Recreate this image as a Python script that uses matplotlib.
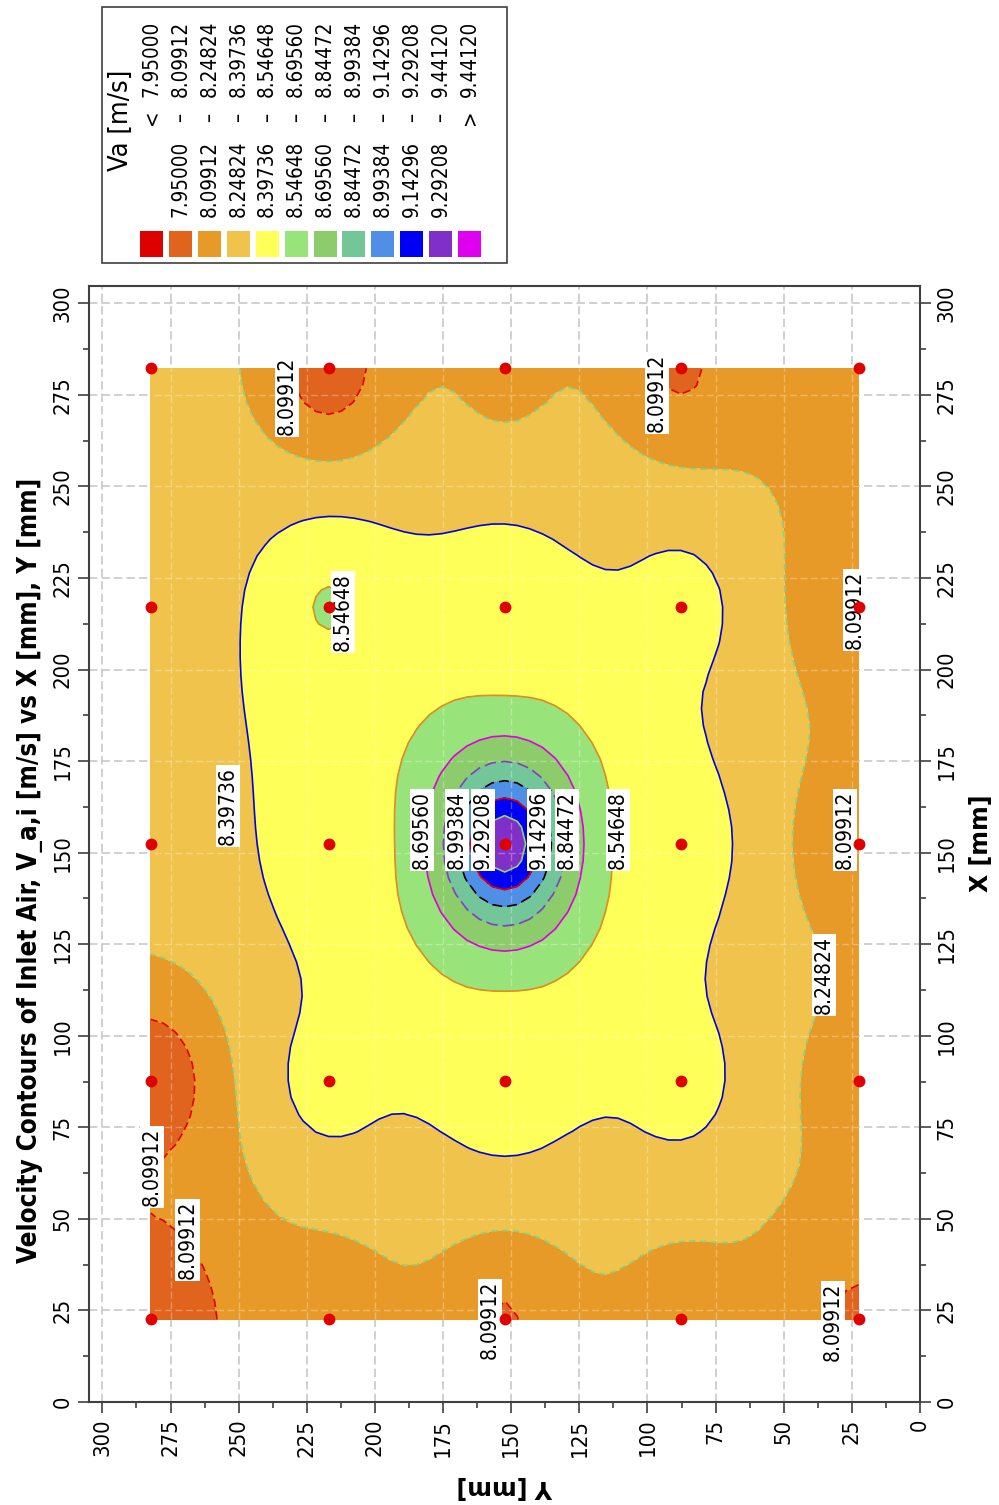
import numpy as np
import matplotlib
matplotlib.use("Agg")
import matplotlib.pyplot as plt
from matplotlib import font_manager
from matplotlib.colors import ListedColormap, BoundaryNorm
from matplotlib.patches import Rectangle

# ---------------- data ----------------
x_mm = [22.56, 87.78, 152.4, 217.02, 282.24]   # X [mm] traverse positions
y_mm = [22.56, 87.78, 152.4, 217.02, 282.24]   # Y [mm] traverse positions
# Va [m/s]; one list per X position, values follow y_mm
va_x1 = [8.08, 8.18, 8.09, 8.17, 7.96]
va_x2 = [8.18, 8.45, 8.47, 8.45, 7.99]
va_x3 = [8.10, 8.45, 9.42, 8.45, 8.31]
va_x4 = [8.10, 8.45, 8.46, 8.56, 8.32]
va_x5 = [8.15, 8.08, 8.21, 8.02, 8.33]

levels = [7.95000, 8.09912, 8.24824, 8.39736, 8.54648, 8.69560,
          8.84472, 8.99384, 9.14296, 9.29208, 9.44120]
axis_ticks = [0, 25, 50, 75, 100, 125, 150, 175, 200, 225, 250, 275, 300]
minor_ticks = [12.5, 37.5, 62.5, 87.5, 112.5, 137.5, 162.5, 187.5, 212.5,
               237.5, 262.5, 287.5]

# contour labels: value, X, Y
lab_value = [8.09912, 8.09912, 8.54648, 8.09912, 8.39736, 8.69560, 8.99384,
             9.29208, 9.14296, 8.84472, 8.54648, 8.09912, 8.24824, 8.09912,
             8.09912, 8.09912, 8.09912]
lab_x = [274.8, 275.5, 215.7, 216.3, 162.7, 156.2, 156.2, 156.2, 156.2, 156.2,
         156.2, 156.2, 116.7, 64.2, 44.2, 22.4, 21.8]
lab_y = [232.4, 96.5, 211.7, 23.8, 253.9, 182.8, 169.8, 160.4, 139.8, 129.6,
         110.9, 27.5, 35.2, 281.9, 268.8, 157.8, 31.9]

legend_low = ["", "7.95000", "8.09912", "8.24824", "8.39736", "8.54648",
              "8.69560", "8.84472", "8.99384", "9.14296", "9.29208", ""]
legend_sym = ["<"] + ["\u2013"] * 10 + [">"]
legend_high = ["7.95000", "8.09912", "8.24824", "8.39736", "8.54648", "8.69560",
               "8.84472", "8.99384", "9.14296", "9.29208", "9.44120", "9.44120"]

fill_colors = ["#dd0000", "#e0641e", "#e89a28", "#f0c44c", "#ffff5a", "#98e47a",
               "#8ccc6a", "#72c698", "#4f8fe6", "#0000f5", "#8030c8", "#e000f0"]
line_colors = ["#000000", "#e00000", "#8fd080", "#0000e0", "#e08c20", "#e000e0",
               "#8040c0", "#000000", "#e00000", "#8fd070", "#0000e0"]
line_styles = ["solid", (0, (5, 2.5)), (0, (4, 2.5)), "solid", "solid", "solid",
               (0, (7, 3)), (0, (6, 3)), "solid", "solid", "solid"]

# ---------------- fonts ----------------
COND = any("DejaVuSansCondensed" in f.fname.replace("-", "") or
           ("DejaVu" in f.name and f.stretch == "condensed")
           for f in font_manager.fontManager.ttflist)
STRETCH = "condensed" if COND else "normal"
plt.rcParams["font.family"] = ["DejaVu Sans"]
if COND:
    fs_tick, fs_lab, fs_leg, fs_legt, fs_title = 15.8, 15.1, 14.8, 19.5, 18.6
else:
    fs_tick, fs_lab, fs_leg, fs_legt, fs_title = 14.2, 13.6, 13.3, 17.8, 16.8

W, H = 999, 1505
def fx(px):
    return px / W
def fy(py):
    return 1 - py / H

fig = plt.figure(figsize=(W / 100, H / 100), dpi=100)
ax = fig.add_axes([fx(89.3), fy(1402), (920 - 89.3) / W, (1402 - 285.7) / H])

# ---------------- field ----------------
va = np.array([va_x1, va_x2, va_x3, va_x4, va_x5])
PX, PY = np.meshgrid(x_mm, y_mm, indexing="ij")
sub = 14
gx = np.unique(np.concatenate([np.linspace(a, b, sub + 1) for a, b in zip(x_mm[:-1], x_mm[1:])]))
gy = np.unique(np.concatenate([np.linspace(a, b, sub + 1) for a, b in zip(y_mm[:-1], y_mm[1:])]))
GX, GY = np.meshgrid(gx, gy, indexing="ij")
d2 = (GX[..., None] - PX.ravel()) ** 2 + (GY[..., None] - PY.ravel()) ** 2
w = 1.0 / np.maximum(d2, 1e-9)
Z = (w * va.ravel()).sum(-1) / w.sum(-1)

cmap = ListedColormap(fill_colors[1:-1])
cmap.set_under(fill_colors[0])
cmap.set_over(fill_colors[-1])
norm = BoundaryNorm(levels, cmap.N)
ax.contourf(GY, GX, Z, levels=levels, cmap=cmap, norm=norm, extend="both", zorder=1)

# faint grid traces visible through the filled area
for t in axis_ticks:
    if y_mm[0] < t < y_mm[-1]:
        ax.plot([t, t], [x_mm[0], x_mm[-1]], color="white", alpha=0.3, lw=1.0,
                ls=(0, (5, 2.5)), zorder=1.5)
    if x_mm[0] < t < x_mm[-1]:
        ax.plot([y_mm[0], y_mm[-1]], [t, t], color="white", alpha=0.3, lw=1.0,
                ls=(0, (5, 2.5)), zorder=1.5)

ax.contour(GY, GX, Z, levels=levels, colors=line_colors, linewidths=1.2,
           linestyles=line_styles, zorder=2)

for v, xx, yy in zip(lab_value, lab_x, lab_y):
    ax.text(yy, xx, f"{v:.5f}", rotation=90, rotation_mode="anchor", ha="center",
            va="center", fontsize=fs_lab, fontstretch=STRETCH, zorder=4,
            bbox=dict(facecolor="white", edgecolor="none", pad=1.5))

ax.plot(PY.ravel(), PX.ravel(), "o", color="#e00000", ms=8.5, mec="none",
        zorder=5, clip_on=False)

# ---------------- axes ----------------
ax.set_xlim(304.8, 0)
ax.set_ylim(0, 304.8)
ax.set_xticks(axis_ticks)
ax.set_yticks(axis_ticks)
ax.set_xticks(minor_ticks, minor=True)
ax.set_yticks(minor_ticks, minor=True)
ax.set_axisbelow(True)
ax.grid(True, which="major", color="#c8c8c8", linestyle=(0, (5, 2.5)), linewidth=1.2)
ax.tick_params(axis="x", which="both", bottom=True, top=False, labelbottom=True,
               direction="out")
ax.tick_params(axis="y", which="both", left=True, right=True, labelleft=True,
               labelright=True, direction="out")
ax.tick_params(which="major", length=8, width=1.2, color="#404040", pad=4)
ax.tick_params(which="minor", length=4.5, width=1.2, color="#404040")
for t in ax.xaxis.get_major_ticks():
    t.label1.set_rotation(90)
    t.label1.set_fontsize(fs_tick)
    t.label1.set_fontstretch(STRETCH)
for t in ax.yaxis.get_major_ticks():
    for lb in (t.label1, t.label2):
        lb.set_rotation(90)
        lb.set_va("center")
        lb.set_fontsize(fs_tick)
        lb.set_fontstretch(STRETCH)
for s in ax.spines.values():
    s.set_color("#404040")
    s.set_linewidth(1.5)

# ---------------- texts ----------------
fig.text(fx(30), fy(870), "Velocity Contours of Inlet Air, V_a,i [m/s] vs X [mm], Y [mm]",
         rotation=90, ha="center", va="center", fontsize=fs_title,
         fontweight="bold", fontstretch=STRETCH)
fig.text(fx(981), fy(843), "X [mm]", rotation=90, ha="center", va="center",
         fontsize=17, fontweight="bold")
fig.text(fx(505), fy(1487), "Y [mm]", rotation=180, ha="center", va="center",
         fontsize=17, fontweight="bold")

# ---------------- legend ----------------
fig.add_artist(Rectangle((fx(102), fy(263)), 405 / W, 256 / H, transform=fig.transFigure,
                         fill=False, ec="#404040", lw=1.2))
fig.text(fx(121), fy(120), "Va [m/s]", rotation=90, ha="center", va="center",
         fontsize=fs_legt, fontstretch=STRETCH)
for k in range(12):
    cx = 151.6 + 28.9 * k
    fig.add_artist(Rectangle((fx(cx - 11.5), fy(257)), 23 / W, 26 / H,
                             transform=fig.transFigure, fc=fill_colors[k], ec="none"))
    if legend_low[k]:
        fig.text(fx(cx), fy(217), legend_low[k], rotation=90, rotation_mode="anchor",
                 ha="left", va="center", fontsize=fs_leg, fontstretch=STRETCH)
    fig.text(fx(cx), fy(117), legend_sym[k], rotation=90, rotation_mode="anchor",
             ha="center", va="center", fontsize=fs_leg, fontstretch=STRETCH)
    fig.text(fx(cx), fy(97), legend_high[k], rotation=90, rotation_mode="anchor",
             ha="left", va="center", fontsize=fs_leg, fontstretch=STRETCH)

fig.savefig("out.png", dpi=100)
